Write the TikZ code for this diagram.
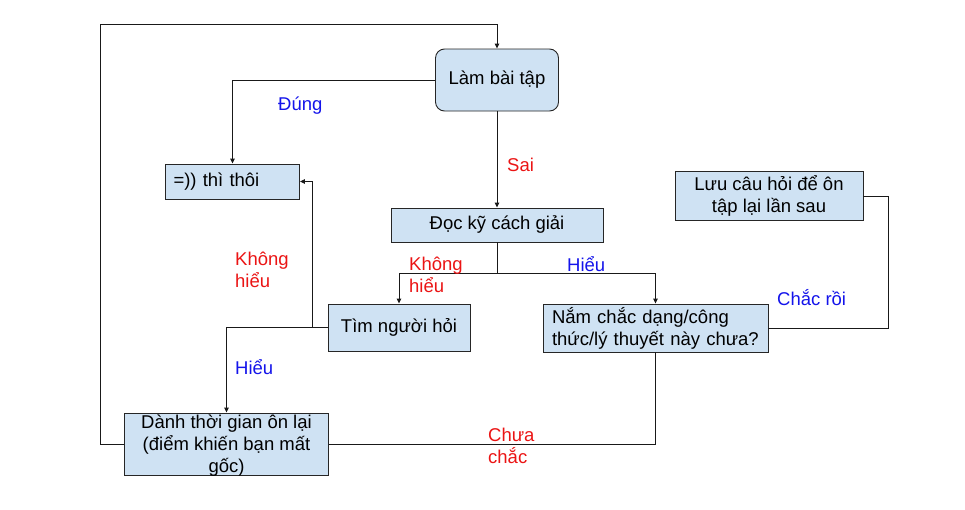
\documentclass[tikz,border=0pt]{standalone}
\usepackage{fontspec}
\setmainfont{Liberation Sans}
\usetikzlibrary{arrows.meta}
\definecolor{boxfill}{HTML}{CFE2F3}
\definecolor{lblblue}{RGB}{20,20,235}
\definecolor{lblred}{RGB}{235,20,20}
\begin{document}
\begin{tikzpicture}[x=1pt,y=-1pt,
  box/.style={draw=black!85, fill=boxfill, line width=0.9pt, inner sep=0pt, font=\fontsize{18.5}{22}\selectfont},
  plain/.style={inner sep=0pt, font=\fontsize{18.5}{22}\selectfont},
  lbl/.style={inner sep=0pt, anchor=west, align=left, font=\fontsize{18.5}{22}\selectfont},
  blbl/.style={lbl, text=lblblue},
  rlbl/.style={lbl, text=lblred},
  conn/.style={draw=black!90, line width=0.9pt},
  arr/.style={conn, -{Triangle[length=5pt,width=4.5pt]}}]
\useasboundingbox (0,0) rectangle (965,509);
\fill[white] (0,0) rectangle (965,509);
% nodes
\node[box, rounded corners=9pt, minimum width=123pt, minimum height=62pt] (lam) at (497,80) {Làm bài tập};
\node[box, minimum width=134pt, minimum height=35pt, text width=118pt, align=left] (thoi) at (232.5,181.5) {=)) thì thôi};
\node[box, minimum width=212pt, minimum height=34pt] (doc) at (497,225) {Đọc kỹ cách giải};
\node[box, minimum width=142pt, minimum height=47pt] (tim) at (399,327.5) {Tìm người hỏi};
\node[box, minimum width=225pt, minimum height=48pt, text width=207pt, align=left] (nam) at (655.5,328) {Nắm chắc dạng/công\\thức/lý thuyết này chưa?};
\node[box, minimum width=188pt, minimum height=49pt, align=center] (luu) at (769,196) {Lưu câu hỏi để ôn\\tập lại lần sau};
\node[box, minimum width=204pt, minimum height=62pt] (danh) at (226.5,444) {};
\node[plain, align=center] (danhtxt) at (226.5,445.5) {Dành thời gian ôn lại\\(điểm khiến bạn mất\\gốc)};
\coordinate (loop) at (100,24);
% connectors
\draw[arr] (lam.west) -| (thoi.north);
\draw[arr] (lam.south) -- (doc.north);
\draw[conn] (doc.south) -- ++(0,31) coordinate (br);
\draw[arr] (br) -| (tim.north);
\draw[arr] (br) -| (nam.north);
\draw[arr] (tim.west) -- ++(-15,0) |- (thoi.east);
\draw[arr] (tim.west) -| (danh.north);
\draw[conn] (nam.east) -- ++(120,0) |- (luu.east);
\draw[conn] (danh.east) -| (nam.south);
\draw[arr] (danh.west) -| (loop) -| (lam.north);
% labels
\node[blbl] (l1) at (278,106) {Đúng};
\node[rlbl] (l2) at (507,165) {Sai};
\node[rlbl] (l3) at (235,270) {Không\\hiểu};
\node[rlbl] (l4) at (409,274.5) {Không\\hiểu};
\node[blbl] (l5) at (567,264) {Hiểu};
\node[blbl] (l6) at (235,367) {Hiểu};
\node[blbl] (l7) at (777,298) {Chắc rồi};
\node[rlbl] (l8) at (488,445.5) {Chưa\\chắc};
\end{tikzpicture}
\end{document}
